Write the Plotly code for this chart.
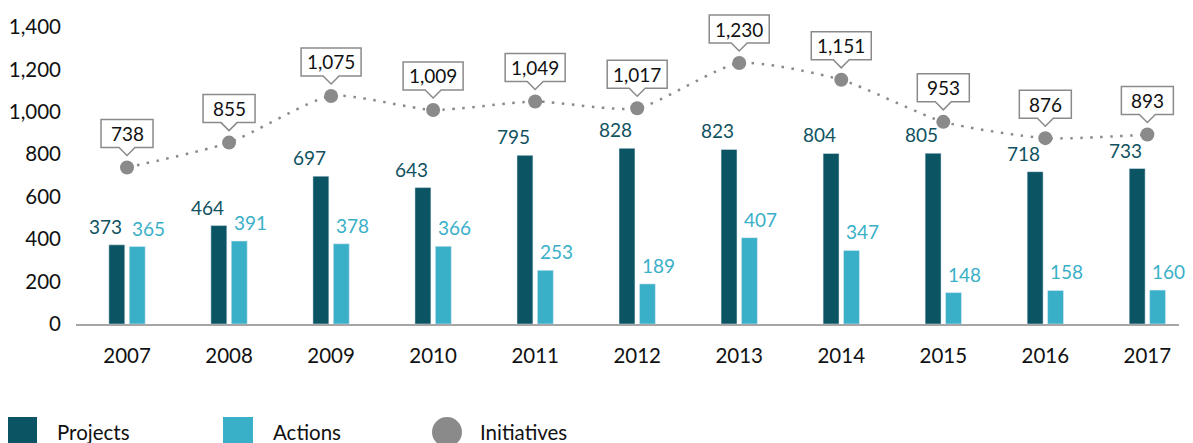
import plotly.graph_objects as go

years = ["2007", "2008", "2009", "2010", "2011", "2012", "2013", "2014", "2015", "2016", "2017"]
projects = [373, 464, 697, 643, 795, 828, 823, 804, 805, 718, 733]
actions = [365, 391, 378, 366, 253, 189, 407, 347, 148, 158, 160]
initiatives = [738, 855, 1075, 1009, 1049, 1017, 1230, 1151, 953, 876, 893]

C_PROJ = "#0a5463"
C_ACT = "#3aafc8"
C_GRAY = "#8a8a8a"
FONT = "Lato"
YMAX = 1400

# page has an 8px body margin; figure sized to fit the window
W, H = 1185, 435
ML, MR, MT, MB = 68, 14, 19, 119
PW = W - ML - MR
PH = H - MT - MB

xs = list(range(len(years)))
XR = [-0.5, len(years) - 0.69]

fig = go.Figure()
fig.add_trace(go.Bar(x=xs, y=projects, name="Projects", marker_color=C_PROJ, showlegend=False))
fig.add_trace(go.Bar(x=xs, y=actions, name="Actions", marker_color=C_ACT, showlegend=False))
fig.add_trace(go.Scatter(x=xs, y=initiatives, name="Initiatives", mode="lines+markers",
                         line=dict(color=C_GRAY, width=2.5, dash="2.5px,7.5px", shape="spline", smoothing=0.6),
                         marker=dict(color=C_GRAY, size=14), showlegend=False, cliponaxis=False))

annotations = []
shapes = []
for i, p, a, ini in zip(xs, projects, actions, initiatives):
    annotations.append(dict(x=i, y=p, text=f"{p:,}", showarrow=False, xshift=-22, yshift=5,
                            yanchor="bottom", font=dict(family=FONT, size=19, color="#10525f")))
    annotations.append(dict(x=i, y=a, text=f"{a:,}", showarrow=False, xshift=21, yshift=5,
                            yanchor="bottom", font=dict(family=FONT, size=19, color=C_ACT)))
    label = f"{ini:,}"
    w = 52 if len(label) <= 3 else 60
    hw = w / 2
    path = (f"M {-hw},20 L -8,20 L 0,12 L 8,20 L {hw},20 L {hw},48 L {-hw},48 Z")
    shapes.append(dict(type="path", xref="x", yref="paper", xsizemode="pixel", ysizemode="pixel",
                       xanchor=i, yanchor=ini / YMAX, path=path, fillcolor="white",
                       line=dict(color=C_GRAY, width=1.5), layer="above"))
    annotations.append(dict(x=i, y=ini, text=label, showarrow=False, yshift=34,
                            font=dict(family=FONT, size=19, color="#111111")))

# custom legend (positions in page pixels -> paper coords)
OFF = 8
def px_x(px):
    return (px - OFF - ML) / PW

def px_y(py):
    return (MT + PH - (py - OFF)) / PH

legend_items = [("Projects", C_PROJ, "rect", 7, 55), ("Actions", C_ACT, "rect", 223, 271),
                ("Initiatives", C_GRAY, "circle", 432, 478)]
for name, col, kind, x0, tx in legend_items:
    shapes.append(dict(type=kind, xref="paper", yref="paper",
                       x0=px_x(x0), x1=px_x(x0 + 30), y0=px_y(417), y1=px_y(447),
                       fillcolor=col, line=dict(width=0)))
    annotations.append(dict(xref="paper", yref="paper", x=px_x(tx), y=px_y(432), text=name,
                            showarrow=False, xanchor="left", yanchor="middle",
                            font=dict(family=FONT, size=20.5, color="#111111")))

fig.update_layout(
    width=W, height=H, margin=dict(l=ML, r=MR, t=MT, b=MB, autoexpand=False),
    plot_bgcolor="white", paper_bgcolor="white",
    barmode="group", bargap=0.6, bargroupgap=0.22,
    font=dict(family=FONT, size=20, color="#111111"),
    annotations=annotations, shapes=shapes, showlegend=False,
    xaxis=dict(range=XR, tickvals=xs, ticktext=years, showgrid=False,
               zeroline=False, showline=True, linecolor="#a6a6a6", linewidth=2, automargin=False,
               ticks="", ticklabelstandoff=12, tickfont=dict(family=FONT, size=20.5, color="#111111")),
    yaxis=dict(range=[0, YMAX], tickvals=list(range(0, YMAX + 1, 200)), tickformat=",", showgrid=False,
               zeroline=False, showline=False, ticks="", ticklabelstandoff=14, automargin=False,
               tickfont=dict(family=FONT, size=20.5, color="#111111")),
)

fig.write_html("out.html")
